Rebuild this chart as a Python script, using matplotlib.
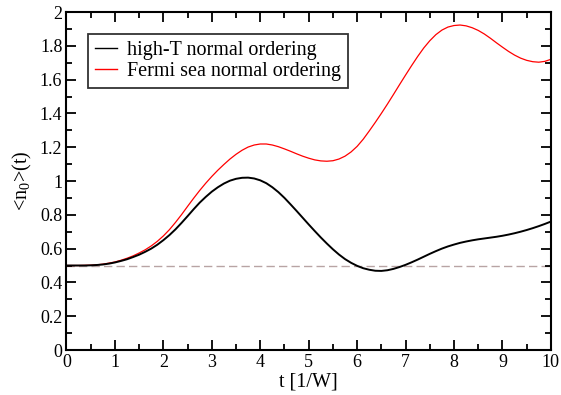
import matplotlib
matplotlib.use("Agg")
import matplotlib.pyplot as plt
from matplotlib.ticker import MultipleLocator

plt.rcParams['font.family'] = ['Liberation Serif', 'DejaVu Serif']
plt.rcParams['mathtext.fontset'] = 'custom'
plt.rcParams['mathtext.rm'] = 'Liberation Serif'
plt.rcParams['mathtext.it'] = 'Liberation Serif:italic'

# time grid [1/W], step 0.125
t = [i * 0.125 for i in range(81)]

high_t = [0.500, 0.500, 0.500, 0.500, 0.501, 0.503, 0.506, 0.511, 0.518,
          0.527, 0.537, 0.550, 0.564, 0.581, 0.600, 0.623, 0.650, 0.680,
          0.714, 0.752, 0.792, 0.833, 0.872, 0.906, 0.937, 0.963, 0.985,
          1.002, 1.013, 1.019, 1.020, 1.015, 1.004, 0.987, 0.963, 0.934,
          0.900, 0.862, 0.823, 0.783, 0.743, 0.704, 0.666, 0.630, 0.596,
          0.565, 0.538, 0.516, 0.498, 0.484, 0.475, 0.469, 0.468, 0.472,
          0.480, 0.491, 0.504, 0.519, 0.535, 0.552, 0.569, 0.585, 0.600,
          0.613, 0.624, 0.634, 0.642, 0.649, 0.655, 0.660, 0.665, 0.670,
          0.676, 0.683, 0.691, 0.700, 0.710, 0.721, 0.733, 0.746, 0.760]

fermi = [0.500, 0.500, 0.500, 0.501, 0.502, 0.504, 0.508, 0.514, 0.521,
         0.531, 0.543, 0.557, 0.574, 0.593, 0.616, 0.643, 0.675, 0.712,
         0.755, 0.801, 0.850, 0.898, 0.944, 0.987, 1.027, 1.064, 1.098,
         1.130, 1.158, 1.182, 1.201, 1.213, 1.219, 1.219, 1.213, 1.203,
         1.190, 1.176, 1.161, 1.147, 1.135, 1.125, 1.119, 1.117, 1.120,
         1.130, 1.147, 1.172, 1.205, 1.247, 1.296, 1.347, 1.400, 1.455,
         1.512, 1.570, 1.627, 1.683, 1.737, 1.787, 1.830, 1.866, 1.893,
         1.911, 1.920, 1.923, 1.918, 1.907, 1.891, 1.870, 1.845, 1.818,
         1.792, 1.767, 1.745, 1.727, 1.714, 1.706, 1.703, 1.708, 1.720]

ref_level = 0.5

fig = plt.figure(figsize=(5.61, 3.95), dpi=100)
ax = fig.add_axes([0.1185, 0.1139, 0.8635, 0.8557])

ax.axhline(ref_level, color='#b8a4a4', lw=1.0, dashes=(6, 3), zorder=1)
ax.plot(t, high_t, color='black', lw=1.4, label='high-T normal ordering', zorder=3)
ax.plot(t, fermi, color='red', lw=0.9, label='Fermi sea normal ordering', zorder=2)

ax.set_xlim(0, 10)
ax.set_ylim(0, 2)
ax.xaxis.set_major_locator(MultipleLocator(1))
ax.xaxis.set_minor_locator(MultipleLocator(0.5))
ax.yaxis.set_minor_locator(MultipleLocator(0.1))
ax.set_yticks([0, 0.2, 0.4, 0.6, 0.8, 1, 1.2, 1.4, 1.6, 1.8, 2])
ax.set_yticklabels(['0', '0.2', '0.4', '0.6', '0.8', '1', '1.2', '1.4', '1.6', '1.8', '2'])

ax.tick_params(which='both', direction='in', top=True, right=True, labelsize=13, width=1.3)
ax.tick_params(which='major', length=7, pad=3)
ax.tick_params(which='minor', length=4)
for s in ax.spines.values():
    s.set_linewidth(1.5)

ax.set_xlabel('t [1/W]', fontsize=14.5, labelpad=1)
ax.set_ylabel(r'<n$_{\mathrm{0}}$>(t)', fontsize=14.5, labelpad=4)

leg = ax.legend(loc='upper left', bbox_to_anchor=(0.045, 0.935), fontsize=14.5,
                frameon=True, fancybox=False, handlelength=1.1, handletextpad=0.45,
                labelspacing=0.1, borderpad=0.35, borderaxespad=0)
leg.get_frame().set_edgecolor('black')
leg.get_frame().set_linewidth(1.3)
for line in leg.get_lines():
    line.set_linewidth(1.0)

fig.savefig('out.png', dpi=100)
